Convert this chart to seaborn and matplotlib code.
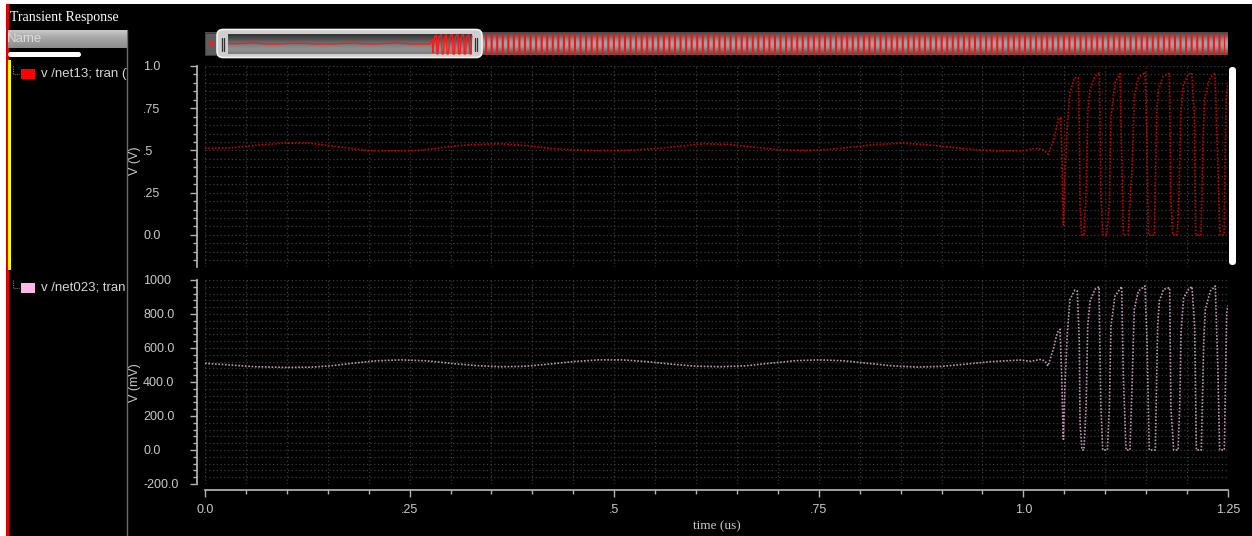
import numpy as np
import matplotlib
matplotlib.use("Agg")
import matplotlib.pyplot as plt
from matplotlib.patches import Rectangle, FancyBboxPatch, Polygon
from matplotlib.ticker import MultipleLocator
import seaborn as sns

# ---------------------------------------------------------------
# Data (time in us)
# ---------------------------------------------------------------
time_ticks = [0.0, 0.25, 0.5, 0.75, 1.0, 1.25]
time_tick_labels = ["0.0", ".25", ".5", ".75", "1.0", "1.25"]

net13_ticks = [0.0, 0.25, 0.5, 0.75, 1.0]
net13_tick_labels = ["0.0", ".25", ".5", ".75", "1.0"]

net023_ticks = [-200, 0, 200, 400, 600, 800, 1000]
net023_tick_labels = ["-200.0", "0.0", "200.0", "400.0", "600.0", "800.0", "1000"]

# names as they show in the (narrow) signal pane
signal_names = ["v /net13; tran (V)", "v /net023; tran"]
signal_colors = ["#ff0000", "#ffb6e8"]

# v /net13 (V)
t_net13 = [0.0, 0.031, 0.061, 0.095, 0.128, 0.149, 0.177, 0.198, 0.226, 0.259,
           0.279, 0.303, 0.327, 0.360, 0.401, 0.422, 0.442, 0.470, 0.510, 0.550,
           0.580, 0.610, 0.640, 0.670, 0.700, 0.730, 0.760, 0.790, 0.820, 0.850,
           0.880, 0.910, 0.940, 0.970, 0.996, 1.0163, 1.0243, 1.0304, 1.0365, 1.0427,
           1.0456, 1.0472, 1.0488, 1.0508, 1.0537, 1.0569, 1.0622, 1.0671, 1.0683, 1.0692,
           1.0712, 1.0740, 1.0765, 1.0786, 1.0814, 1.0875, 1.0928, 1.0945, 1.0969, 1.1018,
           1.1050, 1.1070, 1.1119, 1.1180, 1.1201, 1.1221, 1.1278, 1.1331, 1.1355, 1.1404,
           1.1486, 1.1507, 1.1526, 1.1600, 1.1629, 1.1648, 1.1709, 1.1783, 1.1800, 1.1824,
           1.1880, 1.1901, 1.1922, 1.1954, 1.2015, 1.2056, 1.2088, 1.2105, 1.2170, 1.2198,
           1.2219, 1.2280, 1.2341, 1.2374, 1.2402, 1.2451, 1.2476, 1.2500]
v_net13 = [0.513, 0.515, 0.530, 0.543, 0.543, 0.530, 0.513, 0.500, 0.498, 0.500,
           0.510, 0.525, 0.535, 0.540, 0.525, 0.512, 0.505, 0.500, 0.500, 0.510,
           0.525, 0.540, 0.535, 0.520, 0.505, 0.500, 0.505, 0.520, 0.535, 0.543,
           0.535, 0.520, 0.505, 0.498, 0.498, 0.512, 0.504, 0.478, 0.557, 0.684,
           0.694, 0.430, 0.057, 0.330, 0.665, 0.840, 0.930, 0.930, 0.625, 0.175,
           0.000, 0.000, 0.233, 0.720, 0.860, 0.940, 0.960, 0.270, 0.000, 0.000,
           0.190, 0.700, 0.900, 0.955, 0.450, 0.000, 0.000, 0.430, 0.820, 0.930,
           0.963, 0.630, 0.000, 0.000, 0.720, 0.860, 0.940, 0.955, 0.233, 0.000,
           0.000, 0.233, 0.720, 0.890, 0.950, 0.960, 0.720, 0.000, 0.000, 0.625,
           0.820, 0.930, 0.960, 0.430, 0.000, 0.000, 0.800, 0.900]

# v /net023 (mV)
t_net023 = [0.0, 0.031, 0.061, 0.095, 0.128, 0.153, 0.180, 0.210, 0.240, 0.270,
            0.300, 0.330, 0.360, 0.390, 0.420, 0.450, 0.480, 0.510, 0.540, 0.570,
            0.600, 0.630, 0.660, 0.690, 0.720, 0.750, 0.780, 0.810, 0.840, 0.870,
            0.900, 0.930, 0.960, 0.996, 1.009, 1.0214, 1.026, 1.030, 1.0365, 1.0414,
            1.0447, 1.0468, 1.0488, 1.0508, 1.0537, 1.0569, 1.0630, 1.0659, 1.0683, 1.0692,
            1.0716, 1.0740, 1.0765, 1.0786, 1.0814, 1.0875, 1.0924, 1.0945, 1.0969, 1.1026,
            1.1050, 1.1070, 1.1119, 1.1201, 1.1221, 1.1254, 1.1302, 1.1331, 1.1355, 1.1404,
            1.1486, 1.1511, 1.1538, 1.1612, 1.1640, 1.1661, 1.1713, 1.1787, 1.1803, 1.1836,
            1.1890, 1.1909, 1.1926, 1.1958, 1.2019, 1.2060, 1.2092, 1.2113, 1.2174, 1.2203,
            1.2223, 1.2284, 1.2345, 1.2378, 1.2398, 1.2455, 1.2484, 1.2500]
v_net023 = [510, 500, 490, 486, 487, 495, 510, 525, 530, 525,
            510, 497, 490, 492, 505, 520, 530, 530, 520, 505,
            493, 490, 495, 510, 525, 530, 525, 510, 495, 488,
            492, 505, 520, 529, 522, 533, 524, 494, 592, 690,
            710, 435, 63, 376, 690, 886, 941, 935, 631, 161,
            0, 0, 241, 729, 876, 945, 961, 278, 0, 0,
            241, 729, 906, 961, 435, 0, 0, 435, 827, 935,
            965, 631, 0, 0, 729, 876, 945, 955, 241, 0,
            0, 241, 690, 896, 945, 961, 729, 0, 0, 631,
            827, 935, 965, 435, 0, 0, 808, 850]

# ---------------------------------------------------------------
W, H = 1252, 536


def box(x0, y0, x1, y1):
    """pixel box (from top-left) -> figure fraction rect"""
    return [x0 / W, 1 - y1 / H, (x1 - x0) / W, (y1 - y0) / H]


def px2pt(p):
    return p * 72.0 / 100.0


sns.set_theme(style="dark", rc={
    "figure.facecolor": "black",
    "axes.facecolor": "black",
    "axes.edgecolor": "#b4b4b4",
    "axes.labelcolor": "#c8c8c8",
    "xtick.color": "#b4b4b4",
    "ytick.color": "#b4b4b4",
    "text.color": "#c8c8c8",
    "hatch.linewidth": 1.5,
})
plt.rcParams["font.family"] = ["Liberation Sans", "DejaVu Sans"]

fig = plt.figure(figsize=(W / 100, H / 100), dpi=100, facecolor="black")

# window chrome (frame, pane separator, titles)
chrome = fig.add_axes([0, 0, 1, 1])
chrome.set_xlim(0, W)
chrome.set_ylim(H, 0)
chrome.axis("off")
chrome.add_patch(Rectangle((0, 0), W, 4, fc="white", ec="none"))
chrome.add_patch(Rectangle((0, 0), 6, H, fc="white", ec="none"))
chrome.add_patch(Rectangle((6, 4), 2.5, H, fc="#e00000", ec="none"))
chrome.plot([127, 127], [30, H], color="#6c6c6c", lw=1)
chrome.text(10, 18, "Transient Response", color="white", fontsize=10,
            family=["Liberation Serif", "DejaVu Serif"], va="center", ha="left")
chrome.add_patch(FancyBboxPatch((1229, 67), 7, 198, boxstyle="round,pad=0,rounding_size=3.5",
                                fc="white", ec="none"))

# signal pane on the left
pane = fig.add_axes(box(8, 0, 127, H))
pane.set_xlim(8, 127)
pane.set_ylim(H, 0)
pane.axis("off")
head = np.array([0.78, 0.74, 0.70, 0.67, 0.64, 0.62, 0.60, 0.58, 0.55])[:, None, None] * np.ones((1, 1, 3))
pane.imshow(head, extent=(8, 127, 48, 30), aspect="auto", origin="upper", interpolation="bilinear")
pane.text(7, 38.5, "Name", color="#dcdcdc", fontsize=9.5, va="center", ha="left", clip_on=True)
pane.add_patch(FancyBboxPatch((8, 52), 73, 5, boxstyle="round,pad=0,rounding_size=2.5",
                              fc="white", ec="none"))
pane.add_patch(Rectangle((8, 60), 2.5, 210, fc="#ffff00", ec="none"))
for y_row, name, col in zip([74, 288], signal_names, signal_colors):
    pane.plot([13, 13, 19], [y_row - 8, y_row, y_row], color="#7a7a7a", lw=0.8, ls=(0, (1, 1)))
    pane.add_patch(Rectangle((21, y_row - 5), 14, 10, fc=col, ec="none"))
    pane.text(41, y_row, name, color="#d6d6d6", fontsize=9.5, va="center", ha="left", clip_on=True)

# overview scroll bar
sb = fig.add_axes(box(204, 28, 1230, 60))
sb.set_xlim(204, 1230)
sb.set_ylim(60, 28)
sb.axis("off")
bar_levels = np.array([0.30, 0.38, 0.47, 0.57, 0.63, 0.64, 0.60, 0.51, 0.41, 0.33])
sb.imshow(bar_levels[:, None, None] * np.ones((1, 1, 3)), extent=(205, 1228, 55.5, 32.5),
          aspect="auto", origin="upper", interpolation="bilinear")
sb.add_patch(Rectangle((478, 33.5), 1225 - 478, 21, fill=False, hatch="|||",
                       edgecolor="#ff0f0f", linewidth=0, zorder=2))
sb.add_patch(Rectangle((205, 33), 11, 22, fc="#5e5e5e", ec="#3a3a3a", lw=0.6, zorder=2))
sb.add_patch(Polygon([(208, 43.5), (213, 40.5), (213, 46.5)], closed=True, fc="#ff1a1a",
                     ec="none", zorder=3))
sb.add_patch(FancyBboxPatch((217, 29.5), 265, 28, boxstyle="round,pad=0,rounding_size=6",
                            fc="#cfcfcf", ec="#f2f2f2", lw=1.2, zorder=3))
handle_levels = np.array([0.22, 0.27, 0.33, 0.40, 0.47, 0.52, 0.56, 0.55, 0.50])
sb.imshow(handle_levels[:, None, None] * np.ones((1, 1, 3)), extent=(228, 472, 54, 34),
          aspect="auto", origin="upper", interpolation="bilinear", zorder=4)
for gx in [221.5, 223.8, 474.8, 477.1]:
    sb.plot([gx, gx], [38, 51], color="#303030", lw=0.9, zorder=5)

sbt = fig.add_axes(box(205, 32, 1228, 56))
sbt.set_xlim(-(229 - 205) / 194.4, (1228 - 229) / 194.4)
sbt.set_ylim(-0.1, 1.1)
sbt.axis("off")
sns.lineplot(x=t_net13, y=v_net13, ax=sbt, color="#ff1a1a", linewidth=1.0,
             estimator=None, sort=False)

# the two strips
ax1 = fig.add_axes(box(205, 66, 1228, 267))
ax2 = fig.add_axes(box(205, 280, 1228, 484))

sns.lineplot(x=t_net13, y=v_net13, ax=ax1, color="#e00000", linewidth=1.2, alpha=0.9,
             linestyle=(0, (1, 1)), estimator=None, sort=False)
sns.lineplot(x=t_net023, y=v_net023, ax=ax2, color="#f0bce0", linewidth=1.2, alpha=0.8,
             linestyle=(0, (1, 1)), estimator=None, sort=False)

grid_kw = dict(color="#3c3c3c", linestyle=(0, (1, 2)), linewidth=0.9)
for ax, yt, ylab, ymin, ylim, yname, ly in [
        (ax1, net13_ticks, net13_tick_labels, 0.05, (-0.19, 1.0), "V (V)", 0.53),
        (ax2, net023_ticks, net023_tick_labels, 40, (-200, 1000), "V (mV)", 0.495)]:
    ax.set_xlim(0, 1.25)
    ax.set_ylim(*ylim)
    ax.set_xticks(time_ticks)
    ax.xaxis.set_minor_locator(MultipleLocator(0.05))
    ax.set_yticks(yt, ylab)
    ax.yaxis.set_minor_locator(MultipleLocator(ymin))
    ax.grid(True, which="both", **grid_kw)
    for s in ["top", "right", "bottom"]:
        ax.spines[s].set_visible(False)
    ax.spines["left"].set_position(("outward", px2pt(8)))
    ax.spines["left"].set_color("#b4b4b4")
    ax.tick_params(axis="y", which="major", left=True, direction="out", length=px2pt(7),
                   width=1, pad=px2pt(47), labelsize=9, labelcolor="#c8c8c8")
    ax.tick_params(axis="y", which="minor", left=True, direction="out", length=px2pt(4), width=1)
    for lbl in ax.get_yticklabels():
        lbl.set_horizontalalignment("left")
    ax.set_ylabel(yname, fontsize=9, color="#c8c8c8")
    ax.yaxis.set_label_coords((141 - 205) / 1023, ly)
    ax.set_xlabel("")

ax1.tick_params(axis="x", which="both", bottom=False, labelbottom=False, length=0)

ax2.spines["bottom"].set_visible(True)
ax2.spines["bottom"].set_position(("outward", px2pt(6)))
ax2.spines["bottom"].set_color("#b4b4b4")
ax2.set_xticks(time_ticks, time_tick_labels)
ax2.tick_params(axis="x", which="major", bottom=True, direction="out", length=px2pt(7),
                width=1, pad=px2pt(7), labelsize=9, labelcolor="#c8c8c8")
ax2.tick_params(axis="x", which="minor", bottom=True, direction="out", length=px2pt(4), width=1)
ax2.set_xlabel("time (us)", fontsize=9.5, color="#c8c8c8",
               family=["Liberation Serif", "DejaVu Serif"])
ax2.xaxis.set_label_coords(0.5, (484 - 520) / 204)

fig.savefig("out.png", dpi=100, facecolor=fig.get_facecolor())
